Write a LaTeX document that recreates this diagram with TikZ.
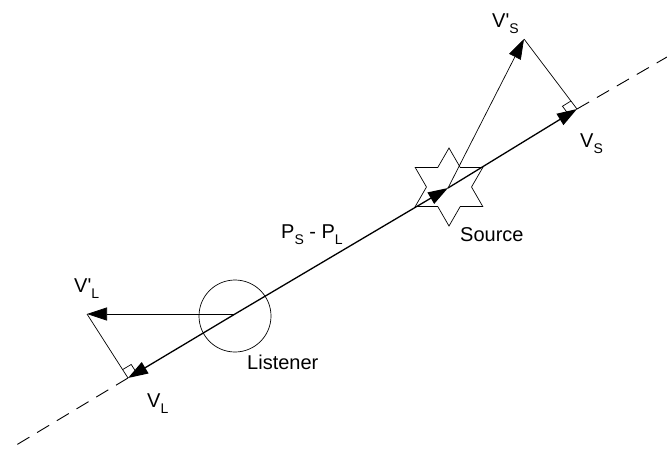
\documentclass[tikz,border=0pt]{standalone}
\usepackage{fontspec}
\setmainfont{Liberation Sans}
\usetikzlibrary{arrows.meta,calc,shapes.geometric}
\newcommand\subx[1]{\raisebox{-6pt}{\fontsize{14}{14}\selectfont #1}}
\begin{document}
\begin{tikzpicture}[x=1pt,y=-1pt,
  mainline/.style={line width=1.3pt},
  thinline/.style={line width=0.7pt},
  arr/.style={-{Triangle[length=20pt,width=13pt]}},
  dashline/.style={line width=0.9pt, dash pattern=on 14pt off 9pt},
  lbl/.style={font=\fontsize{20}{24}\selectfont, inner sep=0pt, anchor=base west}]
\useasboundingbox (0,0) rectangle (667,448);
\coordinate (L) at (235,314);
\coordinate (S) at (448,188);
\coordinate (VS) at (577,109);
\coordinate (VL) at (128,378);
\coordinate (VpS) at (524,39);
\coordinate (VpL) at (87,314);
\coordinate (E1) at (667,57);
\coordinate (E2) at (13,447);
\node[draw, circle, thinline, minimum size=72pt, inner sep=0pt] (lis) at (235,316) {};
\node[draw, star, star points=6, star point ratio=1.732, thinline, minimum size=78pt, inner sep=0pt] (src) at (449,187) {};
% main vectors
\draw[mainline, arr] (L) -- (S);
\draw[mainline, arr] (S) -- (VS);
\draw[mainline, arr] (L) -- (VL);
\draw[thinline, arr] (L) -- (VpL);
\draw[thinline, arr] (S) -- (VpS);
\draw[thinline] (VpS) -- (VS);
\draw[thinline] (VpL) -- (VL);
\draw[dashline] (VS) -- (E1);
\draw[dashline] (VL) -- (E2);
% right angle marks
\coordinate (a1) at ($(VS)!10pt!(S)$);
\coordinate (a2) at ($(VS)!10pt!(VpS)$);
\draw[thinline] (a1) -- ($(a1)+(a2)-(VS)$) -- (a2);
\coordinate (b1) at ($(VL)!10pt!(L)$);
\coordinate (b2) at ($(VL)!10pt!(VpL)$);
\draw[thinline] (b1) -- ($(b1)+(b2)-(VL)$) -- (b2);
% labels
\node[lbl] (tVpS) at (492,27) {V\textquotesingle\subx{S}};
\node[lbl] (tVS) at (580,147) {V\subx{S}};
\node[lbl] (tVpL) at (74,292) {V\textquotesingle\subx{L}};
\node[lbl] (tVL) at (147,407) {V\subx{L}};
\node[lbl] (tLis) at (247,369) {Listener};
\node[lbl] (tSrc) at (460,241) {Source};
\node[lbl] (tPSL) at (281,238) {P\subx{S} - P\subx{L}};
\end{tikzpicture}
\end{document}
